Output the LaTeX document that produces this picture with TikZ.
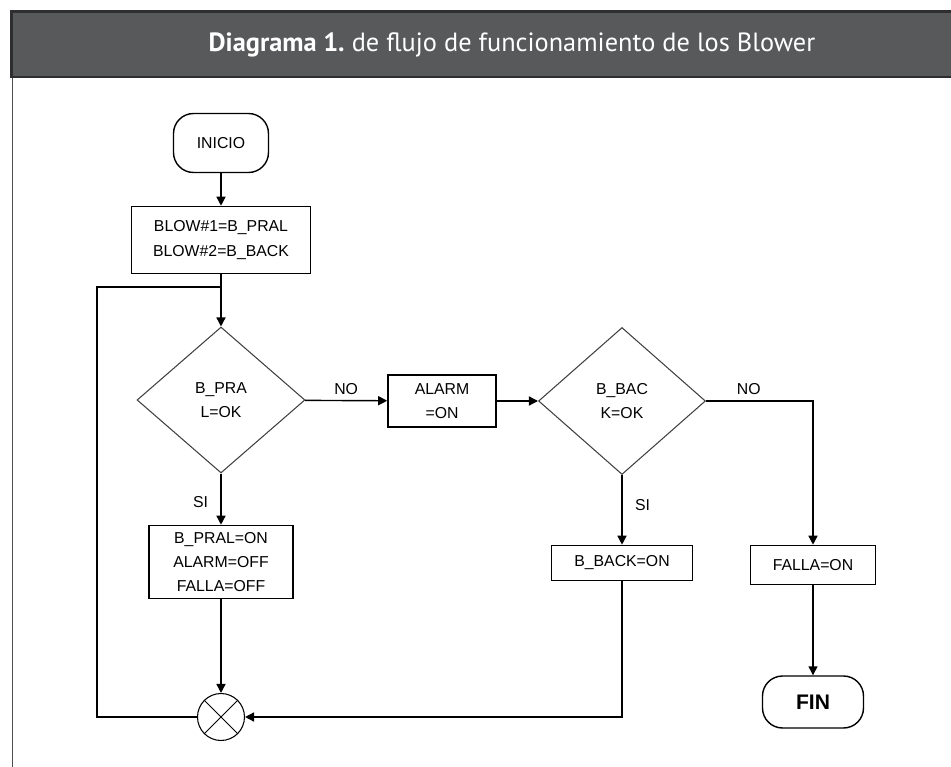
\documentclass[tikz,border=0pt]{standalone}
\usepackage{fontspec}
\setmainfont{Liberation Sans}
\newfontfamily\titlefont{PT Sans}
\usetikzlibrary{shapes.geometric, arrows.meta, positioning}
\definecolor{hdrgray}{HTML}{58595B}
\definecolor{hdrline}{HTML}{2E2E30}

\begin{document}
\begin{tikzpicture}[
    x=0.02cm, y=-0.02cm,
    process/.style={rectangle, draw, line width=0.9pt, align=center, inner sep=1pt, font=\fontsize{9}{13.5}\selectfont},
    decision/.style={diamond, draw=black!75, line width=0.6pt, align=center, inner sep=0pt, font=\fontsize{9}{13.5}\selectfont},
    terminal/.style={rectangle, rounded corners=0.4cm, draw, line width=0.8pt, font=\fontsize{9}{11}\selectfont},
    junction/.style={circle, draw, line width=0.6pt, minimum size=0.94cm, inner sep=0pt},
    flow/.style={draw, line width=0.8pt, -{Triangle[length=1.8mm, width=1.8mm]}},
    link/.style={draw, line width=0.8pt},
    answer/.style={font=\fontsize{9}{11}\selectfont, inner sep=1pt}
]
    \useasboundingbox (0,0) rectangle (951,767);

    % Header
    \fill[hdrgray] (11,11) rectangle (960,78);
    \draw[hdrline, line width=1.2pt] (960,11.5) -- (11.5,11.5) -- (11.5,77) -- (960,77);
    \draw[hdrline!85, line width=1.1pt] (12.5,78) -- (12.5,770);
    \node[text=white, font=\titlefont\fontsize{15}{17}\selectfont] (title) at (512,45)
        {\textbf{Diagrama 1.}\ de flujo de funcionamiento de los Blower};

    % Inicio
    \node[terminal, minimum width=1.9cm, minimum height=1.18cm] (inicio) at (221,143) {INICIO};

    % Asignacion
    \node[process, minimum width=3.58cm, minimum height=1.34cm] (init) at (221,240)
        {BLOW\#1=B\_PRAL\\[1pt]BLOW\#2=B\_BACK};

    % Blower principal
    \node[decision, minimum width=3.36cm, minimum height=2.92cm] (dec1) at (221,400) {B\_PRA\\L=OK};
    \node[process, minimum width=2.16cm, minimum height=1.04cm] (alarm) at (442,401) {ALARM\\=ON};
    \node[process, minimum width=2.88cm, minimum height=1.46cm] (pral) at (221,562)
        {B\_PRAL=ON\\ALARM=OFF\\FALLA=OFF};

    % Blower respaldo
    \node[decision, minimum width=3.34cm, minimum height=2.94cm] (dec2) at (622,401) {B\_BAC\\K=OK};
    \node[process, minimum width=2.82cm, minimum height=0.70cm] (back) at (622,563) {B\_BACK=ON};
    \node[process, minimum width=2.5cm, minimum height=0.78cm] (falla) at (813,565) {FALLA=ON};

    % Fin
    \node[terminal, minimum width=2.02cm, minimum height=1.04cm, font=\fontsize{12}{14}\selectfont\bfseries] (fin) at (813,702) {FIN};

    % Union
    \node[junction] (sum) at (221,717) {};
    \draw[line width=0.6pt] (sum.north west) -- (sum.south east) (sum.north east) -- (sum.south west);

    \coordinate (looptop) at (97,287);
    \coordinate (join) at (221,287);

    % Flujo
    \draw[flow] (inicio) -- (init);
    \draw[flow] (init) -- (dec1);
    \draw[flow] (dec1) -- node[answer, above=2pt] {NO} (alarm);
    \draw[flow] (alarm) -- (dec2);
    \draw[flow] (dec1) -- node[answer, pos=0.55, left=6pt] {SI} (pral);
    \draw[flow] (pral) -- (sum);
    \draw[flow] (dec2) -- node[answer, pos=0.43, right=6pt] {SI} (back);
    \draw[flow] (dec2.east) -| node[answer, pos=0.2, above=2pt] {NO} (falla.north);
    \draw[flow] (falla) -- (fin);
    \draw[flow] (back.south) |- (sum.east);
    \draw[link] (sum.west) -| (looptop) -- (join);
\end{tikzpicture}
\end{document}
